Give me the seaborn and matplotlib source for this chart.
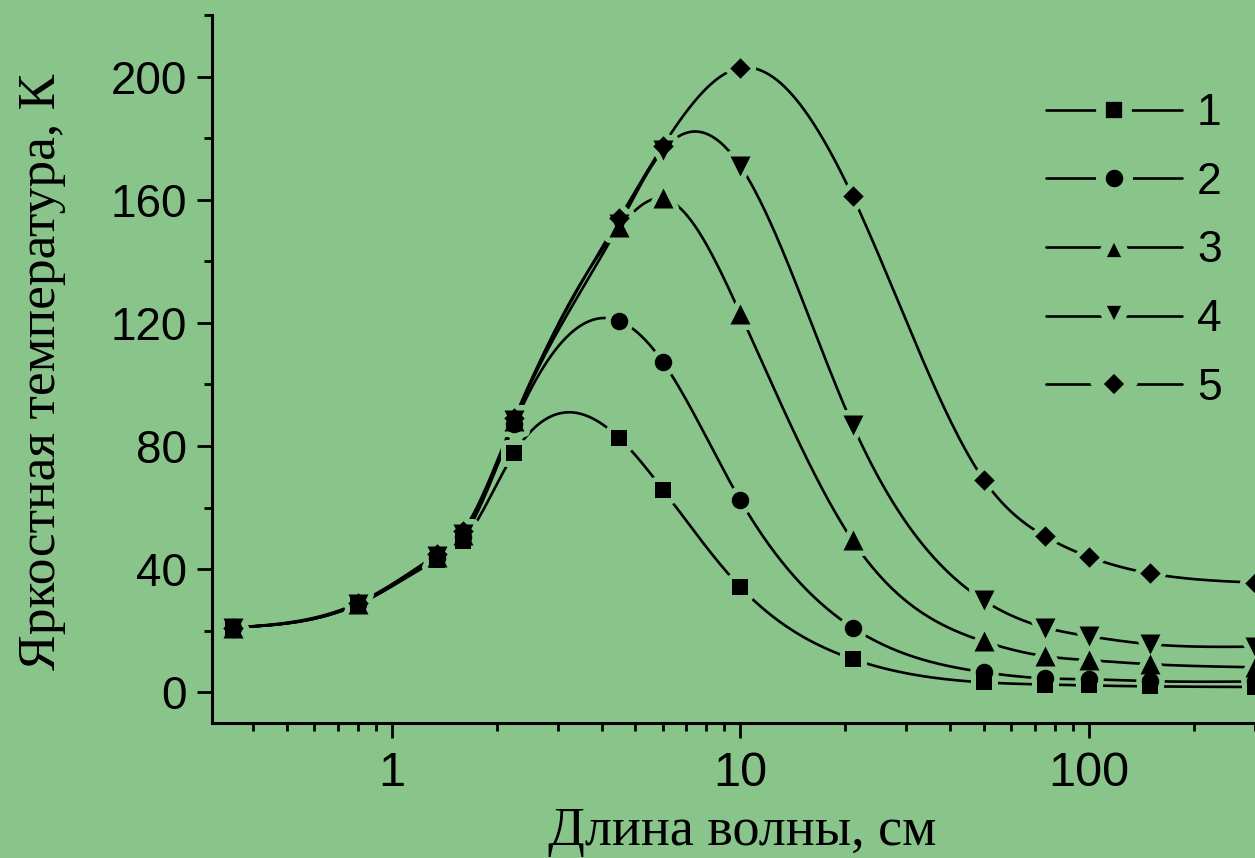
import numpy as np
import pandas as pd
import matplotlib
matplotlib.use("Agg")
import matplotlib.pyplot as plt
from matplotlib.lines import Line2D
from matplotlib.ticker import LogLocator, MultipleLocator, FixedLocator, NullFormatter
import seaborn as sns

# ---------------- data ----------------
wavelength = [0.35, 0.8, 1.35, 1.6, 2.25, 4.5, 6.0, 10.0, 21.0, 50.0, 75.0, 100.0, 150.0, 300.0]
series_labels = ["1", "2", "3", "4", "5"]
t1 = [21.0, 28.5, 43.0, 49.0, 77.8, 82.5, 65.8, 34.2, 10.8, 3.2, 2.5, 2.2, 1.9, 1.7]
t2 = [21.0, 28.6, 43.5, 50.3, 87.2, 120.6, 107.3, 62.4, 21.0, 6.5, 4.5, 4.2, 3.6, 3.5]
t3 = [21.0, 28.7, 44.0, 51.0, 88.0, 151.0, 160.4, 123.0, 49.3, 16.5, 11.7, 10.4, 9.1, 8.1]
t4 = [21.0, 28.8, 44.3, 51.5, 88.5, 152.0, 176.0, 171.0, 86.9, 29.8, 21.0, 18.2, 15.6, 14.8]
t5 = [21.0, 29.0, 44.8, 52.3, 89.0, 154.0, 177.5, 202.8, 161.2, 69.0, 50.6, 44.0, 38.6, 35.6]
temps = [t1, t2, t3, t4, t5]
marker_kinds = ["s", "o", "^", "v", "D"]

BG = "#89C58A"


def natural_cubic(xk, yk, xs):
    """Natural cubic spline of (xk, yk) evaluated at xs."""
    xk = np.asarray(xk, float)
    yk = np.asarray(yk, float)
    n = len(xk)
    h = np.diff(xk)
    A = np.zeros((n, n))
    b = np.zeros(n)
    A[0, 0] = 1.0
    A[-1, -1] = 1.0
    for i in range(1, n - 1):
        A[i, i - 1] = h[i - 1]
        A[i, i] = 2 * (h[i - 1] + h[i])
        A[i, i + 1] = h[i]
        b[i] = 6 * ((yk[i + 1] - yk[i]) / h[i] - (yk[i] - yk[i - 1]) / h[i - 1])
    M = np.linalg.solve(A, b)
    idx = np.clip(np.searchsorted(xk, xs) - 1, 0, n - 2)
    x0, x1 = xk[idx], xk[idx + 1]
    hh = x1 - x0
    a = (x1 - xs) / hh
    c = (xs - x0) / hh
    return (a * yk[idx] + c * yk[idx + 1]
            + ((a ** 3 - a) * M[idx] + (c ** 3 - c) * M[idx + 1]) * hh ** 2 / 6.0)


# ---------------- frames ----------------
lx = np.log10(wavelength)
dense_lx = np.linspace(lx[0], lx[-1], 800)
curve_rows = []
point_rows = []
for lab, t in zip(series_labels, temps):
    ys = natural_cubic(lx, t, dense_lx)
    curve_rows.append(pd.DataFrame({"x": 10 ** dense_lx, "y": ys, "series": lab}))
    point_rows.append(pd.DataFrame({"x": wavelength, "y": t, "series": lab}))
curves = pd.concat(curve_rows, ignore_index=True)
points = pd.concat(point_rows, ignore_index=True)

# ---------------- style ----------------
sns.set_style("ticks")
plt.rcParams["font.family"] = ["Liberation Sans", "DejaVu Sans"]
plt.rcParams["axes.linewidth"] = 2.2
for key in ["text.color", "axes.labelcolor", "xtick.color", "ytick.color",
            "axes.edgecolor"]:
    plt.rcParams[key] = "black"

fig = plt.figure(figsize=(12.55, 8.58), dpi=100)
fig.patch.set_facecolor(BG)
ax = fig.add_axes([212 / 1255, 135 / 858, 1 - 212 / 1255, (723 - 15) / 858])
ax.set_facecolor(BG)

sns.lineplot(data=curves, x="x", y="y", hue="series",
             palette=["black"] * 5, estimator=None, sort=False,
             linewidth=1.9, legend=False, ax=ax, zorder=2)

px_pt = 72 / 100.0
msize = {"s": 16 * px_pt, "o": 17.5 * px_pt, "^": 20 * px_pt, "v": 20 * px_pt, "D": 14.5 * px_pt}
halo = 5.5 * px_pt
for lab, mk in zip(series_labels, marker_kinds):
    sub = points[points["series"] == lab]
    sns.scatterplot(data=sub, x="x", y="y", marker=mk, s=msize[mk] ** 2,
                    color=BG, edgecolor=BG, linewidth=halo * 2, ax=ax,
                    zorder=3, legend=False, clip_on=True)
for lab, mk in zip(series_labels, marker_kinds):
    sub = points[points["series"] == lab]
    sns.scatterplot(data=sub, x="x", y="y", marker=mk, s=msize[mk] ** 2,
                    color="black", edgecolor="black", linewidth=0, ax=ax,
                    zorder=4, legend=False)

ax.set_xscale("log")
ax.set_xlim(0.305, 300)
ax.set_ylim(-10, 220)
ax.yaxis.set_major_locator(MultipleLocator(40))
ax.yaxis.set_minor_locator(MultipleLocator(20))
ax.xaxis.set_major_locator(FixedLocator([1, 10, 100]))
ax.set_xticklabels(["1", "10", "100"])
ax.xaxis.set_minor_locator(LogLocator(base=10, subs=np.arange(2, 10)))
ax.xaxis.set_minor_formatter(NullFormatter())

for s in ["top", "right"]:
    ax.spines[s].set_visible(False)
ax.tick_params(axis="both", which="major", direction="out", length=11,
               width=2.0, color="black")
ax.tick_params(axis="both", which="minor", direction="out", length=6,
               width=2.0, color="black")
ax.tick_params(axis="y", which="major", labelsize=33, pad=7, labelcolor="black")
ax.tick_params(axis="x", which="major", labelsize=35, pad=9, labelcolor="black")

ax.set_xlabel("Длина волны, см", family=["Liberation Serif", "DejaVu Serif"],
              fontsize=39, color="black")
ax.xaxis.set_label_coords((742 - 212) / (1255 - 212), -0.118)
ax.set_ylabel("Яркостная температура, К", family=["Liberation Serif", "DejaVu Serif"],
              fontsize=38.5, color="black")
ax.yaxis.set_label_coords(-(212 - 66) / (1255 - 212), 0.496)

handles = [Line2D([0], [0], color="black", lw=1.9, marker=mk,
                  markersize=msize[mk] + 7, markerfacecolor="black",
                  markeredgecolor=BG, markeredgewidth=7)
           for mk in marker_kinds]
leg = fig.legend(handles, series_labels, loc="center left",
                 bbox_to_anchor=(1046 / 1255, 1 - 251 / 858),
                 frameon=False, fontsize=32, handlelength=3.05,
                 handletextpad=0.35, labelspacing=0.62, borderpad=0,
                 borderaxespad=0)
for txt in leg.get_texts():
    txt.set_color("black")

fig.savefig("out.png", dpi=100, facecolor=BG)
